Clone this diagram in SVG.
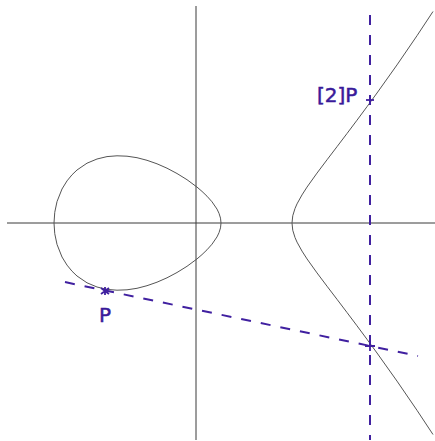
<svg xmlns="http://www.w3.org/2000/svg" width="435" height="441" viewBox="0 0 435 441">
<style>
.axis{stroke:#3a3a3a;stroke-width:1;fill:none}
.curve{stroke:#555;stroke-width:1;fill:none}
.dash{stroke:#4020a0;stroke-width:2;stroke-dasharray:10,10;fill:none}
.mark{stroke:#4020a0;stroke-width:1.8;fill:none}
.lbl{font-family:"DejaVu Sans",sans-serif;font-size:20px;fill:#3a1a9a;stroke:#3a1a9a;stroke-width:0.5}
</style>
<rect width="435" height="441" fill="#fff"/>
<g id="axes">
<line class="axis" x1="7" y1="223" x2="435" y2="223"/>
<line class="axis" x1="196" y1="6" x2="196" y2="440"/>
</g>
<g id="curve">
<path class="curve" d="M54,223 Q54,212.3 57,201.6 L62,189.0 67,180.9 72,174.8 77,170.0 87,163.2 97,159.0 107,156.6 117,155.8 127,156.2 137,157.7 147,160.3 157,163.8 167,168.2 177,173.5 187,179.7 197,187.1 202,191.4 207,196.2 212,201.8 217,209.1 219,213.3 Q221,218.15 221,223 Q221,227.85 219,232.7 L217,236.9 212,244.2 207,249.8 202,254.6 197,258.9 187,266.3 177,272.5 167,277.8 157,282.2 147,285.7 137,288.3 127,289.8 117,290.2 107,289.4 97,287.0 87,282.8 77,276.0 72,271.2 67,265.1 62,257.0 57,244.4 Q54,233.7 54,223 Z"/>
<path class="curve" d="M433,11.5 L417,35.7 397,64.9 377,93.0 367,106.7 357,120.2 347,133.5 337,146.7 327,159.8 317,173.1 307,187.1 302,194.9 297,203.9 295,208.5 Q292,215.75 292,223 Q292,230.25 295,237.5 L297,242.1 302,251.1 307,258.9 317,272.9 327,286.2 337,299.3 347,312.5 357,325.8 367,339.3 377,353.0 397,381.1 417,410.3 433,434.5"/>
</g>
<g id="connectors">
<line class="dash" x1="65" y1="282.1" x2="418" y2="356"/>
<line class="dash" x1="370" y1="15" x2="370" y2="440"/>
</g>
<g id="P">
<path class="mark" d="M101,288 L109,294 M101,294 L109,288 M105,287 L105,295"/>
<text class="lbl" x="99" y="322">P</text>
</g>
<g id="R">
<path class="mark" d="M365,346 L375,346 M370,341 L370,351"/>
</g>
<g id="P2">
<path class="mark" d="M366,100 L374,100"/>
<text class="lbl" x="317" y="102">[2]P</text>
</g>
</svg>
